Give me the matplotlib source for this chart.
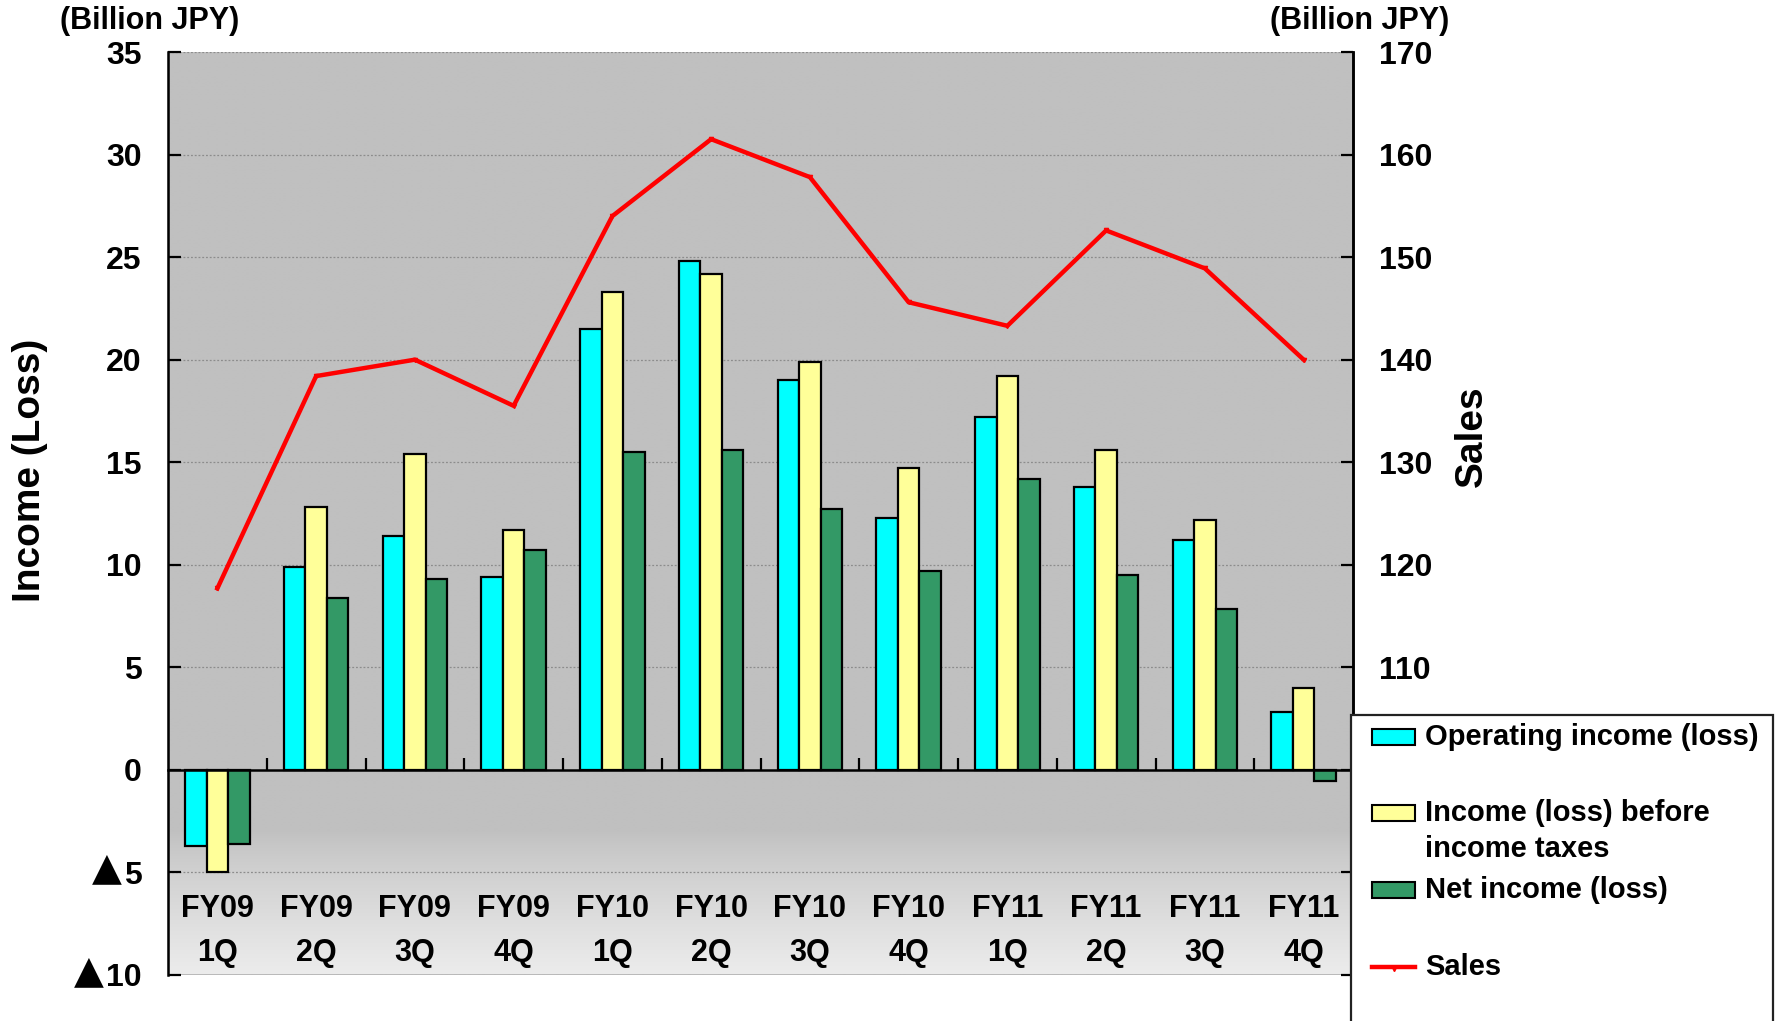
import numpy as np
import matplotlib
matplotlib.use("Agg")
import matplotlib.pyplot as plt
import matplotlib.transforms as mtransforms
from matplotlib.patches import Rectangle
from matplotlib.lines import Line2D
from matplotlib.ticker import FuncFormatter, MultipleLocator

# ---- data (billion JPY) ----
years = ["FY09", "FY09", "FY09", "FY09", "FY10", "FY10", "FY10", "FY10",
         "FY11", "FY11", "FY11", "FY11"]
quarters = ["1Q", "2Q", "3Q", "4Q", "1Q", "2Q", "3Q", "4Q",
            "1Q", "2Q", "3Q", "4Q"]
operating_income = [-3.7, 9.9, 11.4, 9.4, 21.5, 24.8, 19.0, 12.3, 17.2, 13.8, 11.2, 2.8]
income_before_tax = [-5.0, 12.8, 15.4, 11.7, 23.3, 24.2, 19.9, 14.7, 19.2, 15.6, 12.2, 4.0]
net_income = [-3.6, 8.4, 9.3, 10.7, 15.5, 15.6, 12.7, 9.7, 14.2, 9.5, 7.85, -0.55]
sales = [117.7, 138.4, 140.0, 135.5, 154.0, 161.5, 157.8, 145.6, 143.3, 152.6, 148.9, 140.0]

series_labels = ["Operating income (loss)", "Income (loss) before\nincome taxes",
                 "Net income (loss)", "Sales"]
bar_colors = ["#00FFFF", "#FFFF99", "#339966"]
line_color = "#FF0000"

FONT = ["Liberation Sans", "DejaVu Sans"]
plt.rcParams["font.family"] = FONT
plt.rcParams["font.weight"] = "bold"

W, H = 1775, 1021
fig = plt.figure(figsize=(W / 100, H / 100), dpi=100)

ax_l, ax_r, ax_t, ax_b = 168, 1353, 52, 975
ax = fig.add_axes([ax_l / W, 1 - ax_b / H, (ax_r - ax_l) / W, (ax_b - ax_t) / H])

n = len(years)
x = np.arange(n)

# plot-area background: flat grey fading lighter toward the bottom
yy = np.linspace(35, -10, 900)
shade = np.where(yy > -3.0, 192.0, 192.0 + 44.0 * ((-3.0 - yy) / 7.0) ** 0.8) / 255.0
bg = np.repeat(shade[:, None], 2, axis=1)
bg_rgb = np.dstack([bg, bg, bg])
ax.imshow(bg_rgb, extent=[-0.5, n - 0.5, -10, 35], aspect="auto",
          interpolation="bilinear", zorder=0)
ax.set_xlim(-0.5, n - 0.5)
ax.set_ylim(-10, 35)

# dotted gridlines
for g in range(-5, 36, 5):
    if g != 0:
        ax.axhline(g, color="#8c8c8c", lw=0.9, ls=(0, (1.5, 1.5)), zorder=1)
ax.axhline(-10, color="#b4b4b4", lw=2.0, zorder=1)

# bars
bw = 0.218
for i, (vals, col) in enumerate(zip([operating_income, income_before_tax, net_income], bar_colors)):
    ax.bar(x + (i - 1) * bw, vals, width=bw, color=col, edgecolor="black",
           linewidth=1.6, zorder=3)

# zero line acts as the category axis with inward ticks between groups
ax.spines["bottom"].set_position(("data", 0))
ax.spines["bottom"].set_linewidth(1.8)
ax.spines["bottom"].set_zorder(4)
ax.spines["top"].set_visible(False)
ax.spines["left"].set_linewidth(1.8)
ax.spines["right"].set_linewidth(1.8)
ax.set_xticks(np.arange(-0.5, n, 1.0)[1:-1])
ax.tick_params(axis="x", direction="in", length=9, width=1.6, labelbottom=False)

for xi, yr, q in zip(x, years, quarters):
    ax.text(xi, -6.8, yr, ha="center", va="center", fontsize=22, fontweight="bold", zorder=5)
    ax.text(xi, -8.95, q, ha="center", va="center", fontsize=22, fontweight="bold", zorder=5)

# left axis: negative values are written with a leading black triangle
TICK_PAD = 19
TICK_SIZE = 23
ax.yaxis.set_major_locator(MultipleLocator(5))
ax.yaxis.set_major_formatter(FuncFormatter(lambda v, p: "%d" % abs(v)))
ax.tick_params(axis="y", direction="in", length=9, width=1.6, pad=TICK_PAD, labelsize=TICK_SIZE)
for lbl in ax.get_yticklabels():
    lbl.set_fontweight("bold")

blend = mtransforms.blended_transform_factory(ax.transAxes, ax.transData)
pad_px = TICK_PAD * 100 / 72
digit_px = 0.556 * TICK_SIZE * 100 / 72
for v in (-5, -10):
    tr = mtransforms.offset_copy(blend, fig=fig,
                                 x=-(pad_px + digit_px * len(str(abs(v))) + 2), y=4,
                                 units="dots")
    ax.text(0, v, "▲", transform=tr, ha="right", va="center", fontsize=28,
            family="DejaVu Sans", clip_on=False)

# sales on the secondary axis
ax2 = ax.twinx()
ax2.set_ylim(80, 170)
ax2.yaxis.set_major_locator(MultipleLocator(10))
ax2.tick_params(axis="y", direction="in", length=9, width=1.6, pad=TICK_PAD, labelsize=TICK_SIZE)
for lbl in ax2.get_yticklabels():
    lbl.set_fontweight("bold")
ax2.spines["top"].set_visible(False)
ax2.spines["bottom"].set_visible(False)
ax2.spines["right"].set_linewidth(1.8)
ax2.plot(x, sales, color=line_color, lw=3.2, marker="v", ms=3, zorder=6)

# axis titles and units
fig.text(30 / W, 1 - 470 / H, "Income (Loss)", rotation=90, ha="center", va="center",
         fontsize=28, fontweight="bold")
fig.text(1472 / W, 1 - 436 / H, "Sales", rotation=90, ha="center", va="center",
         fontsize=28, fontweight="bold")
fig.text(150 / W, 1 - 21 / H, "(Billion JPY)", ha="center", va="center",
         fontsize=22, fontweight="bold")
fig.text(1360 / W, 1 - 21 / H, "(Billion JPY)", ha="center", va="center",
         fontsize=22, fontweight="bold")

# legend panel
lg_l, lg_t = 1351, 715
fig.patches.append(Rectangle((lg_l / W, -0.05), (W - 2 - lg_l) / W, 0.05 + 1 - lg_t / H,
                             transform=fig.transFigure, facecolor="white",
                             edgecolor="#222222", linewidth=1.6, zorder=10))
hx0, hx1, tx = 1372, 1415, 1425
entry_y = [737, 813, 890, 967]
for (yc, lab, col) in zip(entry_y[:3], series_labels[:3], bar_colors):
    fig.patches.append(Rectangle((hx0 / W, 1 - (yc + 8) / H), (hx1 - hx0) / W, 16 / H,
                                 transform=fig.transFigure, facecolor=col,
                                 edgecolor="black", linewidth=1.5, zorder=11))
for yc, lab in zip(entry_y, series_labels):
    lines = lab.split("\n")
    for k, part in enumerate(lines):
        fig.text(tx / W, 1 - (yc + 36 * k) / H, part, ha="left", va="center",
                 fontsize=21, fontweight="bold", zorder=12)
fig.lines.append(Line2D([hx0 / W, hx1 / W], [1 - entry_y[3] / H] * 2,
                        transform=fig.transFigure, color=line_color, lw=3.2, zorder=11))
fig.lines.append(Line2D([(hx0 + hx1) / 2 / W], [1 - (entry_y[3] + 2) / H],
                        transform=fig.transFigure, color=line_color, marker="v",
                        ms=3, lw=0, zorder=11))

fig.savefig("out.png", dpi=100)
